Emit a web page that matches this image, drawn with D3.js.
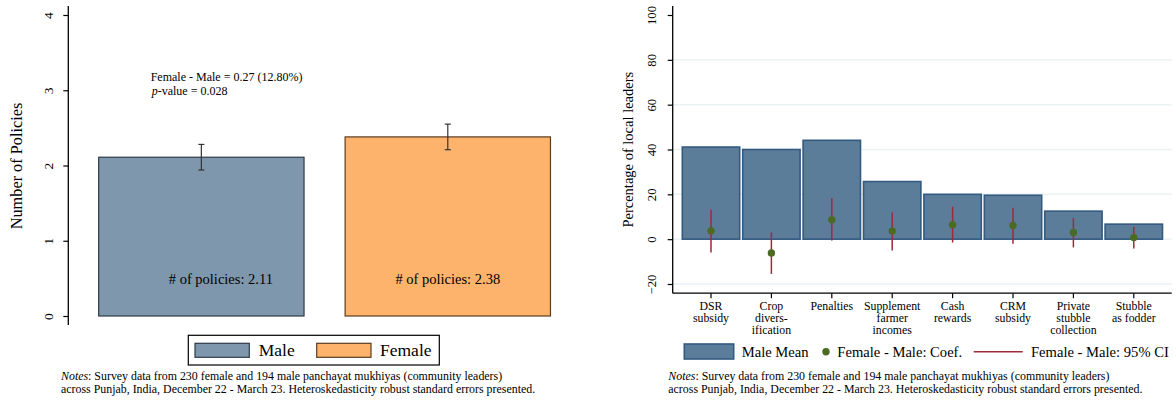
<!DOCTYPE html>
<html>
<head>
<meta charset="utf-8">
<script src="https://cdn.jsdelivr.net/npm/d3@7"></script>
<style>
  html, body { margin: 0; padding: 0; background: #fff; }
  svg { display: block; font-family: "Liberation Serif", "Times New Roman", serif; }
</style>
</head>
<body>
<svg id="chart" width="1176" height="400" font-family="Liberation Serif, Times New Roman, serif"></svg>
<script>
// ---- Left panel: number of policies by gender ----
const groups = ["Male", "Female"];
const policyMeans = [2.11, 2.38];
const policyCiHalf = [0.17, 0.17];
const policyTicks = [0, 1, 2, 3, 4];

// ---- Right panel: support by policy ----
const policies = [
  "DSR\nsubsidy",
  "Crop\ndivers-\nification",
  "Penalties",
  "Supplement\nfarmer\nincomes",
  "Cash\nrewards",
  "CRM\nsubsidy",
  "Private\nstubble\ncollection",
  "Stubble\nas fodder"
];
const maleMean = [41.1, 40.0, 44.1, 25.7, 20.0, 19.6, 12.5, 6.7];
const diffCoef = [3.7, -6.2, 8.7, 3.6, 6.4, 6.1, 3.0, 0.7];
const diffLow  = [-6.0, -15.5, -0.6, -5.1, -1.5, -2.0, -3.7, -4.2];
const diffHigh = [13.1, 3.0, 18.3, 12.0, 14.5, 14.0, 9.5, 5.5];
const pctTicks = [-20, 0, 20, 40, 60, 80, 100];

const notesLine1 = ": Survey data from 230 female and 194 male panchayat mukhiyas (community leaders)";
const notesLine2 = "across Punjab, India, December 22 - March 23. Heteroskedasticity robust standard errors presented.";

const svg = d3.select("#chart");
svg.append("rect").attr("width", 1176).attr("height", 400).attr("fill", "#fff");

function rotateTickLabels(g, offset, size) {
  g.selectAll(".tick text")
    .attr("x", null).attr("dy", "0.35em")
    .attr("text-anchor", "middle")
    .attr("transform", `translate(${-offset},0) rotate(-90)`)
    .attr("font-size", size)
    .attr("font-family", "Liberation Serif, serif")
    .attr("fill", "#000");
  g.selectAll(".tick line").attr("stroke", "#000").attr("stroke-width", 1.2);
}

function drawNotes(x) {
  const t = svg.append("text").attr("x", x).attr("y", 379.8).attr("font-size", 11.9).attr("fill", "#000");
  t.append("tspan").attr("font-style", "italic").text("Notes");
  t.append("tspan").text(notesLine1);
  svg.append("text").attr("x", x).attr("y", 393.1).attr("font-size", 11.9).attr("fill", "#000").text(notesLine2);
}

// ================= Left panel =================
(function () {
  const axisX = 68.3;
  const y = d3.scaleLinear().domain([0, 4]).range([316, 15]);
  const x = d3.scaleBand().domain(groups).range([78.15, 571]).paddingInner(0.1667).paddingOuter(0.0833);
  const fills = ["#7f97ad", "#fdb36b"];
  const strokes = ["#2e3a48", "#5a3c1f"];

  const g = svg.append("g");

  // bars
  g.selectAll("rect.bar").data(groups).join("rect")
    .attr("x", d => x(d))
    .attr("y", (d, i) => y(policyMeans[i]))
    .attr("width", x.bandwidth())
    .attr("height", (d, i) => y(0) - y(policyMeans[i]))
    .attr("fill", (d, i) => fills[i])
    .attr("stroke", (d, i) => strokes[i])
    .attr("stroke-width", 1.2);

  // confidence intervals
  groups.forEach((d, i) => {
    const cx = x(d) + x.bandwidth() / 2;
    const lo = y(policyMeans[i] - policyCiHalf[i]);
    const hi = y(policyMeans[i] + policyCiHalf[i]);
    const eb = g.append("g").attr("stroke", "#333").attr("stroke-width", 1.2);
    eb.append("line").attr("x1", cx).attr("x2", cx).attr("y1", lo).attr("y2", hi);
    eb.append("line").attr("x1", cx - 3).attr("x2", cx + 3).attr("y1", lo).attr("y2", lo);
    eb.append("line").attr("x1", cx - 3).attr("x2", cx + 3).attr("y1", hi).attr("y2", hi);
  });

  // value labels inside bars
  const labelShift = [19.5, 0];
  groups.forEach((d, i) => {
    g.append("text")
      .attr("x", x(d) + x.bandwidth() / 2 + labelShift[i])
      .attr("y", 284)
      .attr("text-anchor", "middle")
      .attr("font-size", 14.5)
      .text(`# of policies: ${policyMeans[i].toFixed(2)}`);
  });

  // difference annotation
  const diff = policyMeans[1] - policyMeans[0];
  g.append("text").attr("x", 150.7).attr("y", 80.5).attr("font-size", 12)
    .text(`Female - Male = ${diff.toFixed(2)} (${(diff / policyMeans[0] * 100).toFixed(2)}%)`);
  const pv = g.append("text").attr("x", 151.7).attr("y", 95).attr("font-size", 12);
  pv.append("tspan").attr("font-style", "italic").text("p");
  pv.append("tspan").text("-value = 0.028");

  // y axis
  const ax = svg.append("g").attr("transform", `translate(${axisX},0)`)
    .call(d3.axisLeft(y).tickValues(policyTicks).tickFormat(d3.format("d")).tickSize(5).tickSizeOuter(0));
  ax.select(".domain").remove();
  rotateTickLabels(ax, 20.5, 13.5);
  svg.append("line").attr("x1", axisX).attr("x2", axisX).attr("y1", y(4.12)).attr("y2", y(-0.12))
    .attr("stroke", "#000").attr("stroke-width", 1.3);

  svg.append("text")
    .attr("transform", `translate(16,166) rotate(-90)`)
    .attr("text-anchor", "middle").attr("dy", "0.35em")
    .attr("font-size", 16.3)
    .text("Number of Policies");

  // legend
  const lg = svg.append("g");
  lg.append("rect").attr("x", 188.3).attr("y", 335.3).attr("width", 251).attr("height", 29.7)
    .attr("fill", "#fff").attr("stroke", "#000").attr("stroke-width", 1.2);
  const lx = [195, 316.7], tx = [258.7, 380];
  groups.forEach((d, i) => {
    lg.append("rect").attr("x", lx[i]).attr("y", 343.3).attr("width", 54.3).attr("height", 14)
      .attr("fill", fills[i]).attr("stroke", strokes[i]).attr("stroke-width", 1.2);
    lg.append("text").attr("x", tx[i]).attr("y", 355.7).attr("font-size", 17.5).text(d);
  });

  drawNotes(61);
})();

// ================= Right panel =================
(function () {
  const axisX = 672.7, plotRight = 1171.7;
  const y = d3.scaleLinear().domain([-20, 100]).range([284, 15]);
  const x = d3.scaleBand().domain(policies).range([680.8, 1164]).paddingInner(0.05).paddingOuter(0.025);
  const baseY = y(-24.1);

  // grid lines
  svg.append("g").selectAll("line").data(pctTicks.filter(t => t < 100)).join("line")
    .attr("x1", axisX).attr("x2", plotRight)
    .attr("y1", d => y(d)).attr("y2", d => y(d))
    .attr("stroke", "#eaf2f3").attr("stroke-width", 1.5);

  // male mean bars
  svg.append("g").selectAll("rect").data(policies).join("rect")
    .attr("x", d => x(d))
    .attr("y", (d, i) => y(maleMean[i]))
    .attr("width", x.bandwidth())
    .attr("height", (d, i) => y(0) - y(maleMean[i]))
    .attr("fill", "#5c7d99")
    .attr("stroke", "#335a80")
    .attr("stroke-width", 1.6);

  // 95% CI of female - male difference
  svg.append("g").selectAll("line").data(policies).join("line")
    .attr("x1", d => x(d) + x.bandwidth() / 2).attr("x2", d => x(d) + x.bandwidth() / 2)
    .attr("y1", (d, i) => y(diffLow[i])).attr("y2", (d, i) => y(diffHigh[i]))
    .attr("stroke", "#9e2a3a").attr("stroke-width", 1.5);

  // point estimates
  svg.append("g").selectAll("circle").data(policies).join("circle")
    .attr("cx", d => x(d) + x.bandwidth() / 2)
    .attr("cy", (d, i) => y(diffCoef[i]))
    .attr("r", 3.7)
    .attr("fill", "#4c6b22");

  // y axis
  const ax = svg.append("g").attr("transform", `translate(${axisX},0)`)
    .call(d3.axisLeft(y).tickValues(pctTicks).tickFormat(d3.format("d")).tickSize(5).tickSizeOuter(0));
  ax.select(".domain").remove();
  rotateTickLabels(ax, 21, 12.7);
  svg.append("line").attr("x1", axisX).attr("x2", axisX).attr("y1", y(104)).attr("y2", baseY)
    .attr("stroke", "#000").attr("stroke-width", 1.3);

  // x axis
  const bx = svg.append("g").attr("transform", `translate(0,${baseY})`)
    .call(d3.axisBottom(x).tickSize(5).tickSizeOuter(0).tickFormat(""));
  bx.select(".domain").remove();
  bx.selectAll(".tick line").attr("stroke", "#000").attr("stroke-width", 1.2);
  svg.append("line").attr("x1", axisX).attr("x2", plotRight).attr("y1", baseY).attr("y2", baseY)
    .attr("stroke", "#000").attr("stroke-width", 1.3);

  // multi-line category labels
  policies.forEach(p => {
    const t = svg.append("text")
      .attr("x", x(p) + x.bandwidth() / 2)
      .attr("y", 309.5)
      .attr("text-anchor", "middle")
      .attr("font-size", 11.8);
    p.split("\n").forEach((line, k) => {
      t.append("tspan").attr("x", x(p) + x.bandwidth() / 2).attr("dy", k === 0 ? 0 : 12).text(line);
    });
  });

  svg.append("text")
    .attr("transform", `translate(628.3,149.7) rotate(-90)`)
    .attr("text-anchor", "middle").attr("dy", "0.35em")
    .attr("font-size", 14.5)
    .text("Percentage of local leaders");

  // legend
  const lg = svg.append("g");
  lg.append("rect").attr("x", 684.3).attr("y", 344).attr("width", 49.4).attr("height", 15)
    .attr("fill", "#5c7d99").attr("stroke", "#335a80").attr("stroke-width", 1.6);
  lg.append("text").attr("x", 741.7).attr("y", 357).attr("font-size", 14.6).text("Male Mean");
  lg.append("circle").attr("cx", 826).attr("cy", 351.7).attr("r", 3.7).attr("fill", "#4c6b22");
  lg.append("text").attr("x", 837.3).attr("y", 357).attr("font-size", 14.6).text("Female - Male: Coef.");
  lg.append("line").attr("x1", 973.7).attr("x2", 1022.7).attr("y1", 351.7).attr("y2", 351.7)
    .attr("stroke", "#9e2a3a").attr("stroke-width", 1.5);
  lg.append("text").attr("x", 1031).attr("y", 357).attr("font-size", 14.6).text("Female - Male: 95% CI");

  drawNotes(668.3);
})();
</script>
</body>
</html>
